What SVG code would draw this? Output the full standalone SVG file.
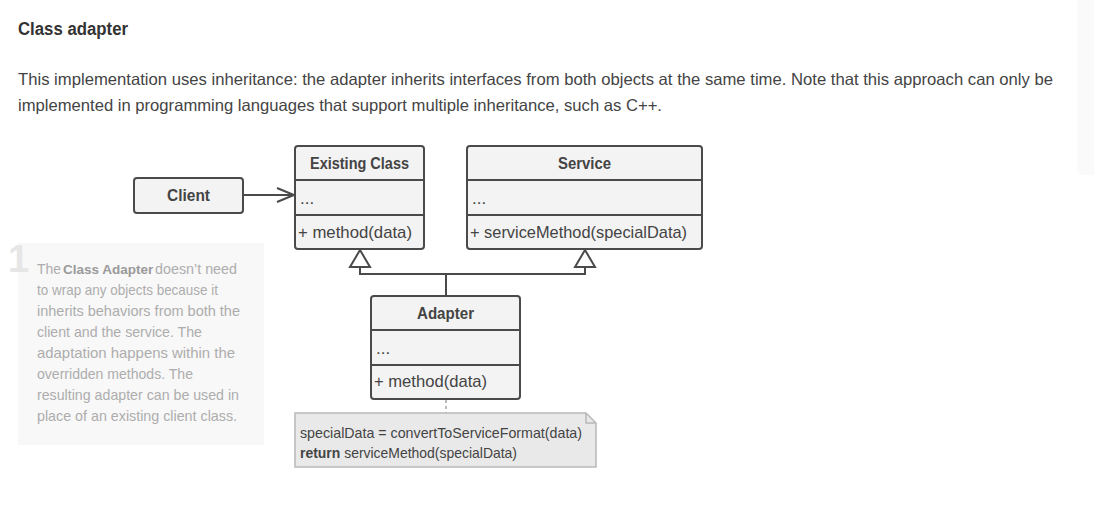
<svg xmlns="http://www.w3.org/2000/svg" width="1094" height="523" viewBox="0 0 1094 523">
<style>
text{font-family:"Liberation Sans",Arial,sans-serif;}
.title{font-size:18px;font-weight:bold;fill:#333;}
.para{font-size:16.5px;fill:#444;}
.box{fill:#f3f3f3;stroke:#4a4a4a;stroke-width:2;}
.div{stroke:#4a4a4a;stroke-width:2;}
.hd{font-size:17px;font-weight:bold;fill:#444;text-anchor:middle;}
.mb{font-size:17px;fill:#444;}
.conn{fill:none;stroke:#4a4a4a;stroke-width:2;}
.tri{fill:#fff;stroke:#4a4a4a;stroke-width:2;stroke-linejoin:miter;}
.nt{font-size:15px;fill:#adadad;}
.ntb{font-size:13.5px;font-weight:bold;fill:#9a9a9a;}
.code{font-size:15px;fill:#444;}
</style>
<rect x="0" y="0" width="1094" height="523" fill="#fff"/>
<rect x="1077" y="-5" width="30" height="180" rx="6" fill="#fafafa"/>

<g id="header">
<text class="title" x="18" y="35" textLength="110" lengthAdjust="spacingAndGlyphs">Class adapter</text>
<text class="para" x="18" y="85" textLength="1035" lengthAdjust="spacingAndGlyphs">This implementation uses inheritance: the adapter inherits interfaces from both objects at the same time. Note that this approach can only be</text>
<text class="para" x="18" y="111" textLength="644" lengthAdjust="spacingAndGlyphs">implemented in programming languages that support multiple inheritance, such as C++.</text>
</g>

<g id="note-1">
<rect x="18" y="243" width="246" height="202" fill="#f8f8f8"/>
<text x="8" y="272" font-size="38" font-weight="bold" fill="#e6e6e6">1</text>
<text class="nt" x="37" y="274" textLength="24" lengthAdjust="spacingAndGlyphs">The</text>
<text class="ntb" x="63" y="274">Class Adapter</text>
<text class="nt" x="155" y="274" textLength="82" lengthAdjust="spacingAndGlyphs">doesn’t need</text>
<text class="nt" x="37" y="295" textLength="181" lengthAdjust="spacingAndGlyphs">to wrap any objects because it</text>
<text class="nt" x="37" y="316" textLength="203" lengthAdjust="spacingAndGlyphs">inherits behaviors from both the</text>
<text class="nt" x="37" y="337" textLength="165" lengthAdjust="spacingAndGlyphs">client and the service. The</text>
<text class="nt" x="37" y="358" textLength="198" lengthAdjust="spacingAndGlyphs">adaptation happens within the</text>
<text class="nt" x="37" y="379" textLength="156" lengthAdjust="spacingAndGlyphs">overridden methods. The</text>
<text class="nt" x="37" y="400" textLength="202" lengthAdjust="spacingAndGlyphs">resulting adapter can be used in</text>
<text class="nt" x="37" y="421" textLength="200" lengthAdjust="spacingAndGlyphs">place of an existing client class.</text>
</g>

<g id="connectors">
<line class="conn" x1="243" y1="195" x2="293" y2="195"/>
<polyline class="conn" points="277,188 294,195 277,202"/>
<polyline class="conn" points="360,267 360,274 585,274 585,267"/>
<line class="conn" x1="446" y1="274" x2="446" y2="297"/>
<polygon class="tri" points="360,250 350,267 370,267"/>
<polygon class="tri" points="585,250 575,267 595,267"/>
<line x1="446" y1="400" x2="446" y2="413" stroke="#bbb" stroke-width="2" stroke-dasharray="3,3"/>
</g>

<g id="client">
<rect class="box" x="134" y="178" width="109" height="35" rx="3"/>
<text class="hd" x="188.5" y="201" textLength="43" lengthAdjust="spacingAndGlyphs">Client</text>
</g>

<g id="existing-class">
<rect class="box" x="295" y="146" width="129" height="103" rx="3"/>
<line class="div" x1="295" y1="180" x2="424" y2="180"/>
<line class="div" x1="295" y1="215" x2="424" y2="215"/>
<text class="hd" x="359.5" y="169" textLength="99" lengthAdjust="spacingAndGlyphs">Existing Class</text>
<text class="mb" x="300" y="204">...</text>
<text class="mb" x="298" y="238" textLength="114" lengthAdjust="spacingAndGlyphs">+ method(data)</text>
</g>

<g id="service">
<rect class="box" x="467" y="146" width="235" height="103" rx="3"/>
<line class="div" x1="467" y1="180" x2="702" y2="180"/>
<line class="div" x1="467" y1="215" x2="702" y2="215"/>
<text class="hd" x="584.5" y="169" textLength="53" lengthAdjust="spacingAndGlyphs">Service</text>
<text class="mb" x="472" y="204">...</text>
<text class="mb" x="470" y="238" textLength="217" lengthAdjust="spacingAndGlyphs">+ serviceMethod(specialData)</text>
</g>

<g id="adapter">
<rect class="box" x="371" y="296" width="149" height="103" rx="3"/>
<line class="div" x1="371" y1="330" x2="520" y2="330"/>
<line class="div" x1="371" y1="365" x2="520" y2="365"/>
<text class="hd" x="445.5" y="319" textLength="57" lengthAdjust="spacingAndGlyphs">Adapter</text>
<text class="mb" x="376" y="354">...</text>
<text class="mb" x="374" y="387" textLength="113" lengthAdjust="spacingAndGlyphs">+ method(data)</text>
</g>

<g id="code-note">
<path d="M295,413 H586 L596,423 V467 H295 Z" fill="#e9e9e9" stroke="#b8b8b8" stroke-width="1.5"/>
<path d="M586,413 V423 H596" fill="none" stroke="#b8b8b8" stroke-width="1.5"/>
<text class="code" x="300" y="438" textLength="282" lengthAdjust="spacingAndGlyphs">specialData = convertToServiceFormat(data)</text>
<text class="code" x="300" y="458" textLength="217" lengthAdjust="spacingAndGlyphs"><tspan font-weight="bold">return</tspan> serviceMethod(specialData)</text>
</g>
</svg>
